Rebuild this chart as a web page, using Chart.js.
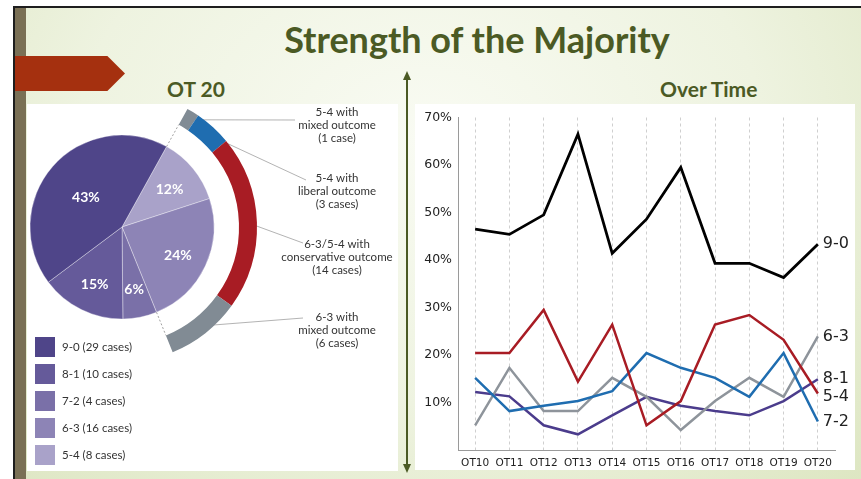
<!DOCTYPE html>
<html>
<head>
<meta charset="utf-8">
<script src="https://cdn.jsdelivr.net/npm/chart.js@4.4.1/dist/chart.umd.min.js"></script>
<style>
  html, body { margin: 0; padding: 0; }
  body { width: 861px; height: 479px; overflow: hidden; position: relative; background: #fff; font-family: Lato, sans-serif; }
  .slide { position: absolute; left: 13px; top: 6px; right: 0; bottom: 0;
    border-top: 2px solid #1e1e1e; border-left: 2px solid #1e1e1e;
    background: radial-gradient(ellipse at 48% 28%, #f9fbf3 0%, #eef3e0 55%, #dde6c2 100%); }
  .strip { position: absolute; left: 15px; top: 8px; width: 11px; bottom: 0; background: #7a7055; }
  .tab { position: absolute; left: 15px; top: 56px; width: 110px; height: 35px; background: #a5300f;
    clip-path: polygon(0 0, 84% 0, 100% 50%, 84% 100%, 0 100%); }
  .title { position: absolute; left: 177px; width: 600px; top: 21px; text-align: center;
    font: bold 36px/36px Lato, sans-serif; color: #4b5a24; }
  .sub { position: absolute; top: 78px; font: bold 21px/21px Lato, sans-serif; color: #4b5a24; }
  .panel { position: absolute; background: #fff; }
  #pieWrap { position: absolute; left: -13px; top: 92px; width: 411px; height: 270px; }
  #lineWrap { position: absolute; left: 415px; top: 104px; width: 443px; height: 370px; }
  #legend { position: absolute; left: 35px; top: 337px; }
  .item { height: 27px; display: flex; align-items: flex-start; font: 11.5px Lato, sans-serif; color: #333; }
  .sw { width: 20px; height: 20px; margin-right: 7px; }
  .item span { line-height: 20px; }
  svg { position: absolute; left: 0; top: 0; }
</style>
</head>
<body>
<div class="slide"></div>
<div class="strip"></div>
<div class="tab"></div>
<div class="title">Strength of the Majority</div>
<div class="sub" style="left:167px">OT 20</div>
<div class="sub" style="left:660px">Over Time</div>
<div class="panel" style="left:27px; top:104px; width:371px; height:367px"></div>
<div class="panel" style="left:415px; top:104px; width:440px; height:366px"></div>
<svg width="861" height="479">
  <line x1="407" y1="78" x2="407" y2="466" stroke="#4b5a24" stroke-width="2"/>
  <polygon points="403,80 411,80 407,71" fill="#4b5a24"/>
  <polygon points="403,464 411,464 407,473" fill="#4b5a24"/>
</svg>
<div id="pieWrap"><canvas id="pie"></canvas></div>
<div id="legend"></div>
<div id="lineWrap"><canvas id="line"></canvas></div>

<script>
// OT 20 - 按票数划分的案件
const margins = ['9-0', '8-1', '7-2', '6-3', '5-4'];
const marginCases = [29, 10, 4, 16, 8];
const marginColors = ['#4f4589', '#655a9a', '#7a70a8', '#8d84b6', '#a9a2c9'];

// 外圈：6-3 / 5-4 案件的结果
const outcomeLabels = [
    ['5-4 with', 'mixed outcome', '(1 case)'],
    ['5-4 with', 'liberal outcome', '(3 cases)'],
    ['6-3/5-4 with', 'conservative outcome', '(14 cases)'],
    ['6-3 with', 'mixed outcome', '(6 cases)']
];
const outcomeCases = [1, 3, 14, 6];
const outcomeColors = ['#818b94', '#1f6db0', '#a81c24', '#818b94'];

// Over Time
const terms = ['OT10', 'OT11', 'OT12', 'OT13', 'OT14', 'OT15', 'OT16', 'OT17', 'OT18', 'OT19', 'OT20'];
const share90 = [46.5, 45.4, 49.5, 66.5, 41.4, 48.6, 59.5, 39.3, 39.3, 36.3, 43.3];
const share54 = [20.4, 20.4, 29.5, 14.4, 26.4, 5.2, 10.3, 26.4, 28.4, 23.2, 11.9];
const share72 = [15.2, 8.2, 9.3, 10.3, 12.4, 20.4, 17.3, 15.2, 11.2, 20.4, 6.0];
const share63 = [5.2, 17.3, 8.2, 8.2, 15.2, 11.2, 4.2, 10.3, 15.2, 11.2, 23.9];
const share81 = [12.2, 11.3, 5.2, 3.3, 7.3, 11.2, 9.3, 8.2, 7.3, 10.3, 14.9];
const yTicks = [0, 10, 20, 30, 40, 50, 60, 70];

// 图例
const legendEl = document.getElementById('legend');
margins.forEach((m, i) => {
    const row = document.createElement('div');
    row.className = 'item';
    row.innerHTML = '<div class="sw" style="background:' + marginColors[i] + '"></div><span>' +
        m + ' (' + marginCases[i] + ' cases)</span>';
    legendEl.appendChild(row);
});

const totalCases = marginCases.reduce((a, b) => a + b, 0);
const outcomeTotal = outcomeCases.reduce((a, b) => a + b, 0);

// 标注线与文字
const pieLabels = {
    id: 'pieLabels',
    beforeDatasetsDraw(chart) {
        const ctx = chart.ctx;
        const ring = chart.getDatasetMeta(0).data;
        const ends = [[308, 28], [319, 88], [316, 151], [316, 226]];
        ctx.save();
        ctx.strokeStyle = '#a0a0a0';
        ctx.lineWidth = 0.8;
        for (let i = 0; i < outcomeCases.length; i++) {
            const a = ring[i];
            const mid = (a.startAngle + a.endAngle) / 2;
            const r = (a.innerRadius + a.outerRadius) / 2;
            ctx.beginPath();
            ctx.moveTo(a.x + Math.cos(mid) * r, a.y + Math.sin(mid) * r);
            ctx.lineTo(ends[i][0], ends[i][1]);
            ctx.stroke();
        }
        ctx.restore();
    },
    afterDatasetsDraw(chart) {
        const ctx = chart.ctx;
        const ring = chart.getDatasetMeta(0).data;
        const pie = chart.getDatasetMeta(2).data;
        const pieData = chart.data.datasets[2].data;
        ctx.save();
        // 虚线
        ctx.strokeStyle = '#8a8a8a';
        ctx.lineWidth = 0.8;
        ctx.setLineDash([2, 2]);
        [ring[0].startAngle, ring[outcomeCases.length - 1].endAngle].forEach(ang => {
            const p = pie[0];
            ctx.beginPath();
            ctx.moveTo(p.x + Math.cos(ang) * p.outerRadius, p.y + Math.sin(ang) * p.outerRadius);
            ctx.lineTo(p.x + Math.cos(ang) * ring[0].innerRadius, p.y + Math.sin(ang) * ring[0].innerRadius);
            ctx.stroke();
        });
        ctx.setLineDash([]);
        // 百分比
        ctx.fillStyle = '#fff';
        ctx.font = 'bold 14px Lato';
        ctx.textAlign = 'center';
        ctx.textBaseline = 'middle';
        pie.forEach((a, i) => {
            const mid = (a.startAngle + a.endAngle) / 2;
            const r = a.outerRadius * (pieData[i] / totalCases > 0.4 ? 0.52 : 0.67);
            ctx.fillText(Math.round(pieData[i] / totalCases * 100) + '%', a.x + Math.cos(mid) * r, a.y + Math.sin(mid) * r + 2);
        });
        // 外圈文字
        const tops = [20, 86, 152, 225];
        ctx.fillStyle = '#333';
        ctx.font = '11.5px Lato';
        outcomeLabels.forEach((lines, i) => {
            lines.forEach((t, j) => ctx.fillText(t, 350, tops[i] + j * 13));
        });
        ctx.restore();
    }
};

new Chart(document.getElementById('pie').getContext('2d'), {
    type: 'doughnut',
    data: {
        labels: margins.slice().reverse(),
        datasets: [{
            data: outcomeCases.concat([totalCases - outcomeTotal]),
            backgroundColor: outcomeColors.concat(['rgba(0,0,0,0)']),
            borderWidth: 0,
            weight: 18
        }, {
            data: [1],
            backgroundColor: 'rgba(0,0,0,0)',
            borderWidth: 0,
            weight: 25
        }, {
            data: marginCases.slice().reverse(),
            backgroundColor: marginColors.slice().reverse(),
            borderColor: 'rgba(255,255,255,0.35)',
            borderWidth: 1,
            weight: 92
        }]
    },
    options: {
        responsive: true,
        maintainAspectRatio: false,
        animation: false,
        events: [],
        cutout: 0,
        rotation: 29,
        hoverOffset: 0,
        hoverBorderWidth: 0,
        layout: { padding: { right: 141 } },
        plugins: { legend: { display: false }, tooltip: { enabled: false } }
    },
    plugins: [pieLabels]
});

// 线尾标签
const endLabels = {
    id: 'endLabels',
    afterDatasetsDraw(chart) {
        const ctx = chart.ctx;
        ctx.save();
        ctx.font = '16px "DejaVu Sans"';
        ctx.fillStyle = '#222';
        ctx.textBaseline = 'middle';
        chart.data.datasets.forEach((ds, i) => {
            const pts = chart.getDatasetMeta(i).data;
            const last = pts[pts.length - 1];
            ctx.fillText(ds.label, last.x + 5, last.y + (ds.label === '5-4' ? 3 : 0));
        });
        ctx.restore();
    }
};

const series = [
    { label: '9-0', data: share90, color: '#000000', width: 2.8 },
    { label: '5-4', data: share54, color: '#a81c24', width: 2.5 },
    { label: '7-2', data: share72, color: '#1f6db0', width: 2.5 },
    { label: '6-3', data: share63, color: '#8e949b', width: 2.5 },
    { label: '8-1', data: share81, color: '#4b3c8c', width: 2.5 }
];

new Chart(document.getElementById('line').getContext('2d'), {
    type: 'line',
    data: {
        labels: terms,
        datasets: series.map(s => ({
            label: s.label,
            data: s.data,
            borderColor: s.color,
            borderWidth: s.width,
            pointRadius: 0,
            tension: 0,
            fill: false
        }))
    },
    options: {
        responsive: true,
        maintainAspectRatio: false,
        animation: false,
        events: [],
        layout: { padding: { top: 12, right: 23, bottom: 4, left: 0 } },
        plugins: { legend: { display: false }, tooltip: { enabled: false } },
        scales: {
            x: {
                offset: true,
                grid: { color: '#cfcfcf', drawTicks: false },
                border: { color: '#9a9a9a', dash: [3, 3] },
                ticks: { color: '#222', font: { family: 'DejaVu Sans', size: 10.5 }, padding: 7, maxRotation: 0 },
                afterFit: scale => { scale.height = 20; }
            },
            y: {
                min: yTicks[0],
                max: yTicks[yTicks.length - 1],
                afterBuildTicks: scale => { scale.ticks = yTicks.map(v => ({ value: v })); },
                grid: { drawOnChartArea: false, drawTicks: false },
                border: { color: '#9a9a9a' },
                ticks: {
                    color: '#222',
                    font: { family: 'DejaVu Sans', size: 12.5 },
                    padding: 6,
                    callback: v => v === 0 ? '' : v + '%'
                },
                afterFit: scale => { scale.width = 43; }
            }
        }
    },
    plugins: [endLabels]
});
</script>
</body>
</html>
